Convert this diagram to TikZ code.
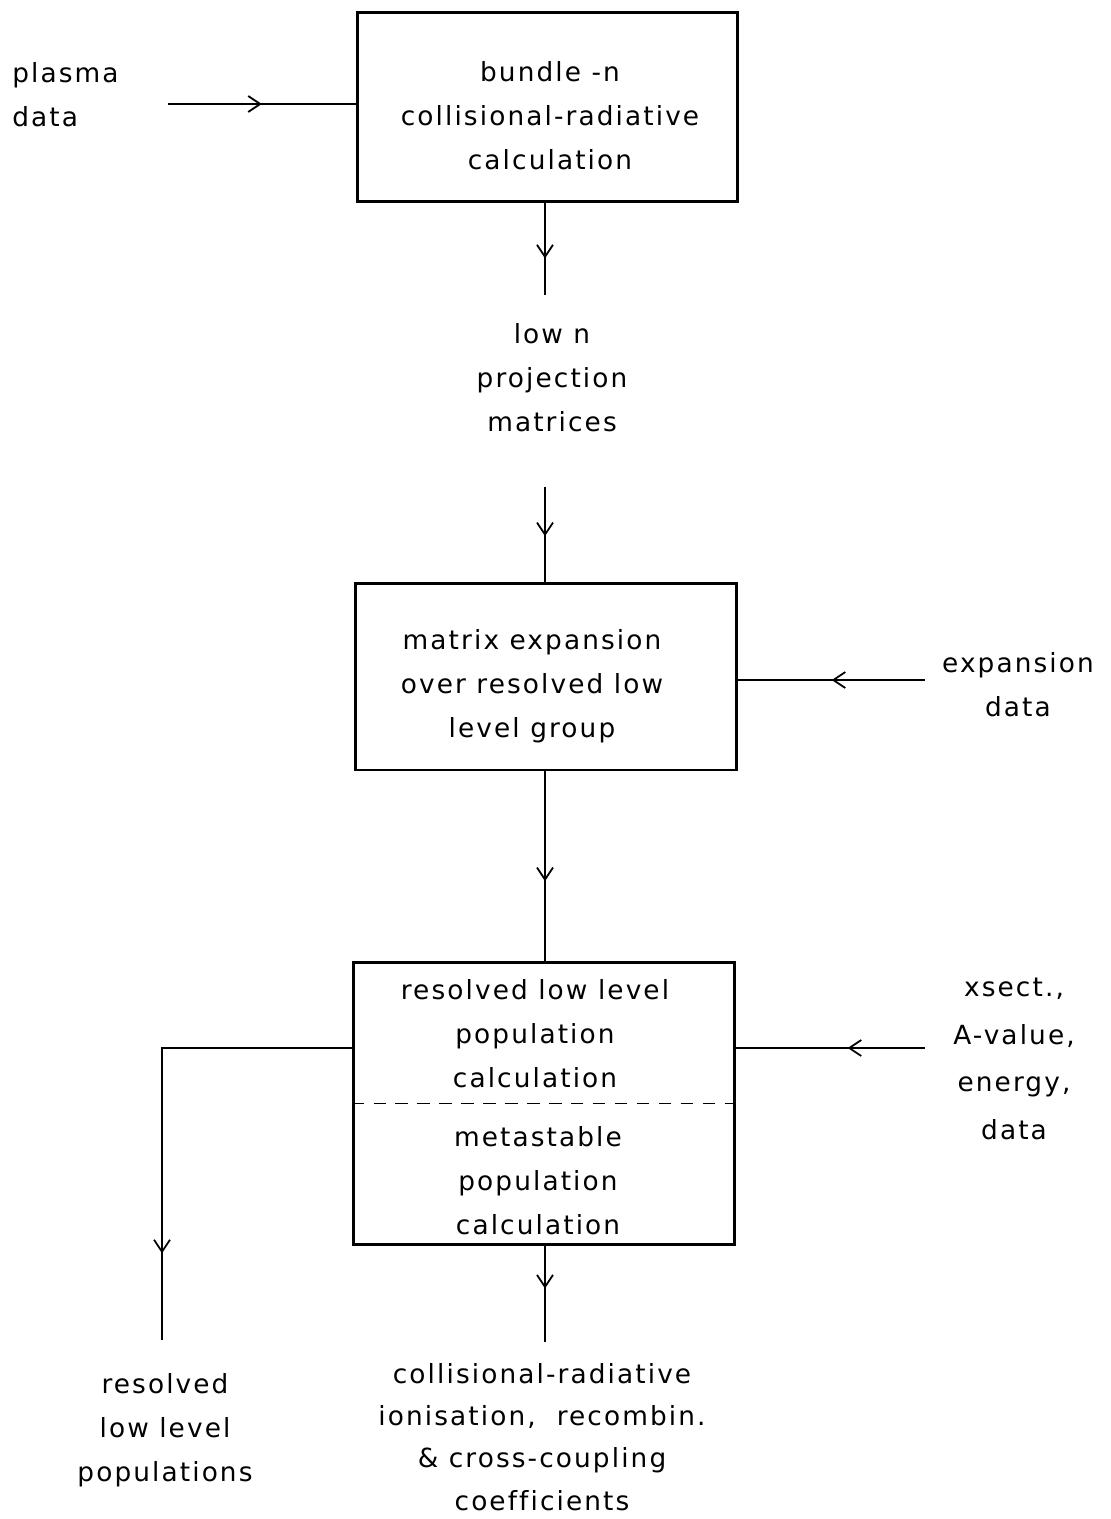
\documentclass[tikz,border=0pt]{standalone}
\usepackage{fontspec}
\setmainfont[LetterSpace=8,Ligatures=NoCommon]{DejaVu Sans}
\usetikzlibrary{arrows.meta,decorations.markings}
\tikzset{
  procbox/.style = {draw=black, line width=1.7pt, inner sep=0pt},
  txt/.style = {align=center, inner sep=0pt,
    font=\fontsize{15}{25}\selectfont},% texte des blocs
  flow/.style = {line width=1pt, postaction={decorate},
    decoration={markings, mark=at position #1 with
      {\arrow{Straight Barb[length=2.4mm,width=3.2mm,line width=1pt]}}}},% fleche au milieu
  divider/.style = {line width=1.1pt, dash pattern=on 7pt off 5.5pt}
}

\begin{document}
\begin{tikzpicture}[x=0.02cm, y=-0.02cm]
  \useasboundingbox (0,0) rectangle (1110,1519);
  % blocs de calcul
  \node [procbox, minimum width=7.62cm, minimum height=3.8cm] (bundle) at (547.5,107) {};
  \node [txt] (bundletxt) at (550,116) {bundle -n\\collisional-radiative\\calculation};
  \node [procbox, minimum width=7.64cm, minimum height=3.74cm] (expand) at (546,676.5) {};
  \node [txt] (expandtxt) at (532,686) {matrix expansion\\over resolved low\\level group};
  \node [procbox, minimum width=7.64cm, minimum height=5.66cm] (resolve) at (544,1103.5) {};
  \node [txt] (resolvetxt) at (535,1034) {resolved low level\\population\\calculation};
  \node [txt] (metatxt) at (538,1181) {metastable\\population\\calculation};
  \draw [divider] (resolve.west) -- (resolve.east);
  % donnees et resultats
  \node [txt, align=left, anchor=west] (plasma) at (12,95) {plasma\\data};
  \node [txt] (projection) at (552,378) {low n\\projection\\matrices};
  \node [txt] (expdata) at (1018,685) {expansion\\data};
  \node [txt, font=\fontsize{15}{27}\selectfont] (atomdata) at (1014,1059) {xsect.,\\A-value,\\energy,\\data};
  \node [txt] (lowpops) at (165,1430) {resolved\\low level\\populations};
  \node [txt, font=\fontsize{15}{24}\selectfont] (coeffs) at (542,1437) {collisional-radiative\\ionisation,\ \ recombin.\\\& cross-coupling\\coefficients};
  % liaisons
  \coordinate (plasmaend) at (168,104);
  \coordinate (projtop) at (545,295);
  \coordinate (projbot) at (545,487);
  \coordinate (expend) at (925,680);
  \coordinate (atomend) at (925,1048);
  \coordinate (popend) at (162,1340);
  \coordinate (coefend) at (545,1342);
  \draw [flow=0.5] (plasmaend) -- (bundle.west |- plasmaend);
  \draw [flow=0.6] (bundle.south -| projtop) -- (projtop);
  \draw [flow=0.52] (projbot) -- (expand.north -| projbot);
  \draw [flow=0.5] (expend) -- (expand.east |- expend);
  \draw [flow=0.58] (expand.south -| projbot) -- (resolve.north -| projbot);
  \draw [flow=0.41] (atomend) -- (resolve.east |- atomend);
  \draw [flow=0.82] (resolve.west |- atomend) -| (popend);
  \draw [flow=0.44] (resolve.south -| coefend) -- (coefend);
\end{tikzpicture}
\end{document}
